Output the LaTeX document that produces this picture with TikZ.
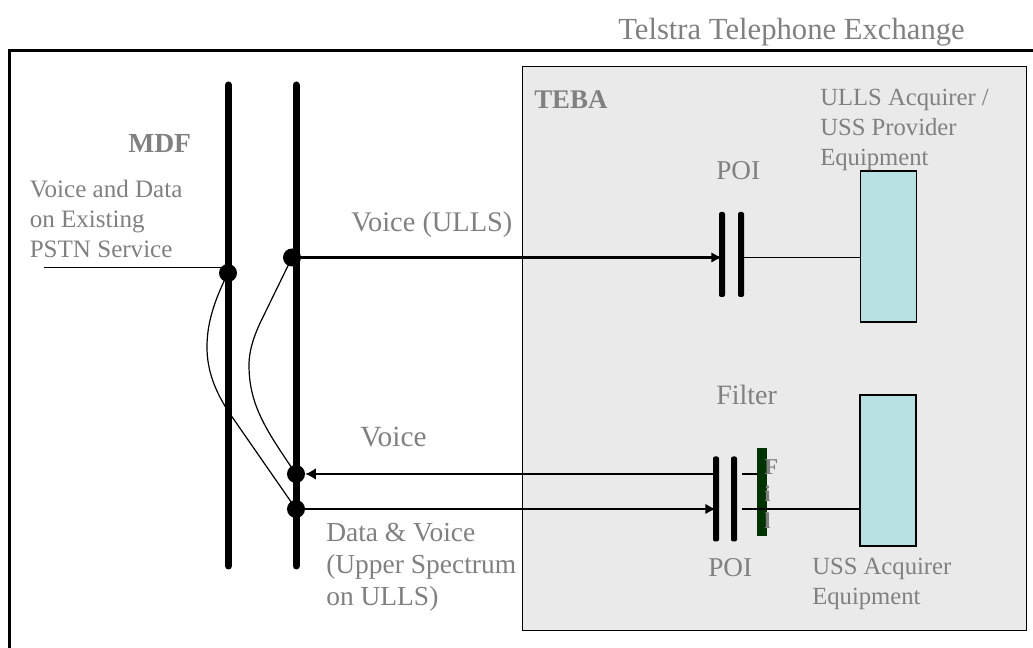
\documentclass[tikz,border=0pt]{standalone}
\usepackage{fontspec}
\setmainfont{Liberation Serif}
\usetikzlibrary{arrows.meta}
\definecolor{teba grey}{RGB}{234,234,234}
\definecolor{equip blue}{RGB}{185,224,227}
\definecolor{filter green}{RGB}{0,51,0}
\definecolor{label grey}{RGB}{128,128,128}
\begin{document}
\begin{tikzpicture}[
		x=0.75pt, y=-0.75pt,
		label text/.style={text=label grey, align=left, anchor=west, inner sep=0pt, font=\fontsize{18.5}{22.5}\selectfont},
		large text/.style={label text, font=\fontsize{21}{24}\selectfont},
		rail/.style={line width=5.25pt, line cap=round},
		poi bar/.style={fill=black, rectangle, rounded corners=1.5pt, minimum width=4.5pt, minimum height=63.75pt, inner sep=0pt},
		equip box/.style={draw, line width=0.9pt, fill=equip blue, rectangle, minimum width=42pt, inner sep=0pt},
		joint/.style={fill=black, circle, minimum size=13.5pt, inner sep=0pt},
		link/.style={line width=0.9pt},
		strong link/.style={line width=1.8pt},
	]
	\useasboundingbox (0,0) rectangle (1033,648);

	\coordinate (frame top) at (1033,50.5);
	\coordinate (frame corner) at (9.5,50.5);
	\coordinate (frame bottom) at (9.5,648);
	\draw[line width=2.25pt] (frame top) -- (frame corner) -- (frame bottom);

	\node[draw, line width=0.75pt, fill=teba grey, rectangle, minimum width=378pt, minimum height=423pt, inner sep=0pt] (teba) at (774,349) {};

	\coordinate (rail a top) at (228.5,85);
	\coordinate (rail a bottom) at (228.5,566);
	\coordinate (rail b top) at (296,85);
	\coordinate (rail b bottom) at (296,566);
	\draw[rail] (rail a top) -- (rail a bottom);
	\draw[rail] (rail b top) -- (rail b bottom);

	\node[joint] (in joint) at (228,273) {};
	\node[joint] (ulls joint) at (292,257.5) {};
	\node[joint] (voice joint) at (296,474) {};
	\node[joint] (data joint) at (296,509) {};

	\node[poi bar] (poi a left) at (722,254.5) {};
	\node[poi bar] (poi a right) at (741,254.5) {};
	\node[poi bar] (poi b left) at (716,499) {};
	\node[poi bar] (poi b right) at (734,499) {};
	\node[equip box, minimum height=113.25pt] (ulls equip) at (888.5,246.5) {};
	\node[equip box, minimum height=113.25pt] (uss equip) at (888,470.5) {};
	\node[fill=filter green, rectangle, minimum width=7.5pt, minimum height=66pt, inner sep=0pt] (filter) at (762,492) {};

	\coordinate (service in) at (44,267.5);
	\draw[link] (service in) -- (in joint.center |- service in);
	\draw[strong link, -{Latex[length=8pt,width=8pt]}] (ulls joint) -- (poi a left.center |- ulls joint);
	\draw[link] (poi a right.east |- ulls joint) -- (ulls equip.west |- ulls joint);
	\draw[strong link, -{Latex[length=8pt,width=9pt]}] (poi b left.west |- voice joint) -- (voice joint.east);
	\draw[strong link, -{Latex[length=8pt,width=8pt]}] (data joint) -- (poi b left.center |- data joint);
	\draw[link] (poi b right.east |- voice joint) ++(5,0) -- (filter.west |- voice joint);
	\draw[link] (poi b right.east |- data joint) ++(5,0) -- (uss equip.west |- data joint);

	\draw[link] (in joint.center) .. controls (213,303) and (207,325) .. (207,347)
		.. controls (207,372) and (216,392) .. (228,411) -- (data joint.center);
	\draw[link] (ulls joint.center) -- (263,317) .. controls (257,329) and (249,347) .. (249,365)
		.. controls (249,405) and (266,430) .. (voice joint.center);

	\node[label text, font=\fontsize{23}{27}\selectfont] (exchange label) at (618,32) {Telstra Telephone Exchange};
	\node[label text, font=\fontsize{20.7}{24}\selectfont\bfseries] (mdf label) at (128,143) {MDF};
	\node[label text, font=\fontsize{18.8}{22.5}\selectfont] (service label) at (29.5,218.5) {Voice and Data\\on Existing\\PSTN Service};
	\node[large text, font=\fontsize{21.3}{24}\selectfont] (ulls label) at (351,225) {Voice (ULLS)};
	\node[large text, font=\fontsize{22}{24}\selectfont] (voice label) at (360,437) {Voice};
	\node[large text, font=\fontsize{20.6}{24}\selectfont] (data label) at (326,567) {Data \& Voice\\(Upper Spectrum\\on ULLS)};
	\node[label text, font=\fontsize{20.2}{24}\selectfont\bfseries] (teba label) at (534,100) {TEBA};
	\node[label text] (provider label) at (820,130) {ULLS Acquirer /\\USS Provider\\Equipment};
	\node[label text, font=\fontsize{20.4}{24}\selectfont] (poi a label) at (716,171) {POI};
	\node[large text] (filter label) at (716,395) {Filter};
	\node[label text, font=\fontsize{20.4}{24}\selectfont] (poi b label) at (708,568) {POI};
	\node[label text] (acquirer label) at (812,584) {USS Acquirer\\Equipment};
	\node[label text, font=\fontsize{17}{20.5}\selectfont\bfseries] (filter text) at (764,494) {F\\i\\l};
\end{tikzpicture}
\end{document}
